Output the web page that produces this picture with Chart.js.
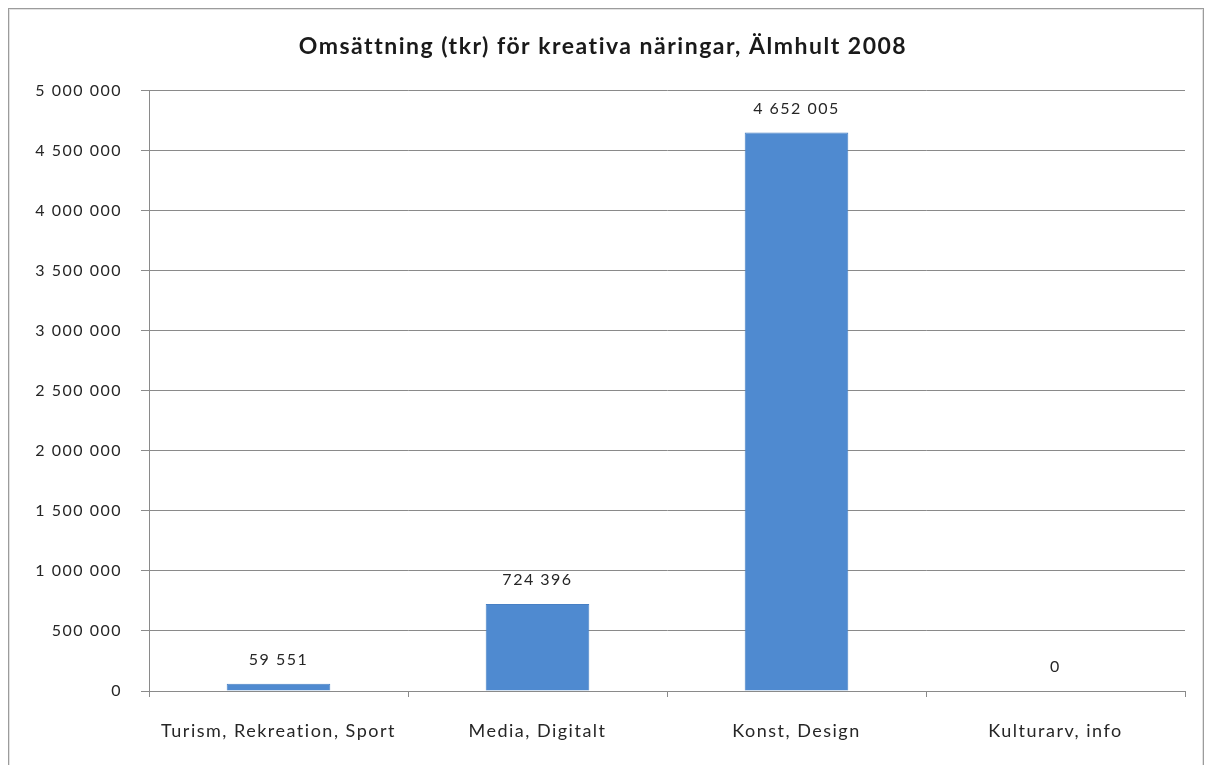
<!DOCTYPE html>
<html lang="sv">
<head>
<meta charset="utf-8">
<title>Omsättning (tkr) för kreativa näringar, Älmhult 2008</title>
<script src="https://cdn.jsdelivr.net/npm/chart.js@4/dist/chart.umd.min.js"></script>
<style>
  html, body { margin: 0; padding: 0; background: #fff; overflow: hidden; }
  #wrap { position: relative; width: 1206px; height: 765px; }
  #frame {
    position: absolute; left: 8px; top: 8px; width: 1194px; height: 780px;
    border: 1px solid #9c9c9c; box-shadow: inset 0 0 0 1px #e2e2e2;
    pointer-events: none;
  }
  canvas { position: absolute; left: 0; top: 0; }
</style>
</head>
<body>
<div id="wrap">
  <canvas id="chart" width="1206" height="765"></canvas>
  <div id="frame"></div>
</div>
<script>
// Turnover (tkr) per creative industry group, Älmhult 2008
const titleText = 'Omsättning (tkr) för kreativa näringar, Älmhult 2008';
const categories = ['Turism, Rekreation, Sport', 'Media, Digitalt', 'Konst, Design', 'Kulturarv, info'];
const turnover = [59551, 724396, 4652005, 0];
const yTicks = [0, 500000, 1000000, 1500000, 2000000, 2500000, 3000000, 3500000, 4000000, 4500000, 5000000];

const FONT = 'Lato, "Open Sans", sans-serif';
const TEXT = '#262626';
const GRID = '#8a8a8a';
const LETTER_SPACING = '1.5px';

// Swedish style thousands grouping with a plain space
function fmt(v) {
  return String(Math.round(v)).replace(/\B(?=(\d{3})+(?!\d))/g, ' ');
}

// Looser letter spacing, re-applied because canvas resizes reset the context
const spacing = {
  id: 'spacing',
  beforeLayout(chart) { chart.ctx.letterSpacing = LETTER_SPACING; },
  beforeDraw(chart) { chart.ctx.letterSpacing = LETTER_SPACING; }
};

// Value labels above each bar
const valueLabels = {
  id: 'valueLabels',
  afterDatasetsDraw(chart) {
    const ctx = chart.ctx;
    const meta = chart.getDatasetMeta(0);
    ctx.save();
    ctx.font = '16px ' + FONT;
    ctx.fillStyle = TEXT;
    ctx.textAlign = 'center';
    ctx.textBaseline = 'middle';
    meta.data.forEach((bar, i) => {
      ctx.fillText(fmt(chart.data.datasets[0].data[i]), bar.x, bar.y - 24);
    });
    ctx.restore();
  }
};

new Chart(document.getElementById('chart'), {
  type: 'bar',
  data: {
    labels: categories,
    datasets: [{
      data: turnover,
      backgroundColor: '#4f8ad0',
      borderColor: '#4880c4',
      borderWidth: 1,
      categoryPercentage: 1.0,
      barPercentage: 0.4
    }]
  },
  options: {
    responsive: false,
    animation: false,
    devicePixelRatio: 1,
    layout: { padding: 0 },
    plugins: {
      legend: { display: false },
      tooltip: { enabled: false },
      title: {
        display: true,
        text: titleText,
        color: '#1a1a1a',
        font: { family: FONT, size: 23, weight: 'bold', lineHeight: 1.2 },
        padding: { top: 33, bottom: 30 }
      }
    },
    scales: {
      x: {
        afterFit(s) { s.height = 74; },
        grid: { display: true, offset: true, drawOnChartArea: false, drawTicks: true, tickLength: 6, color: GRID },
        border: { display: true, color: GRID },
        ticks: { color: TEXT, font: { family: FONT, size: 18 }, padding: 23, maxRotation: 0 }
      },
      y: {
        min: 0,
        max: 5000000,
        afterFit(s) { s.width = 149; },
        afterBuildTicks(s) { s.ticks = yTicks.map(v => ({ value: v })); },
        grid: { color: GRID, tickLength: 8, drawTicks: true },
        border: { display: true, color: GRID },
        ticks: { color: TEXT, font: { family: FONT, size: 16 }, padding: 19, callback: v => fmt(v) }
      },
      // empty right-hand margin so the plot ends short of the frame
      margin: {
        position: 'right',
        afterFit(s) { s.width = 21; },
        grid: { display: false },
        border: { display: false },
        ticks: { display: false }
      }
    }
  },
  plugins: [spacing, valueLabels]
});
</script>
</body>
</html>
